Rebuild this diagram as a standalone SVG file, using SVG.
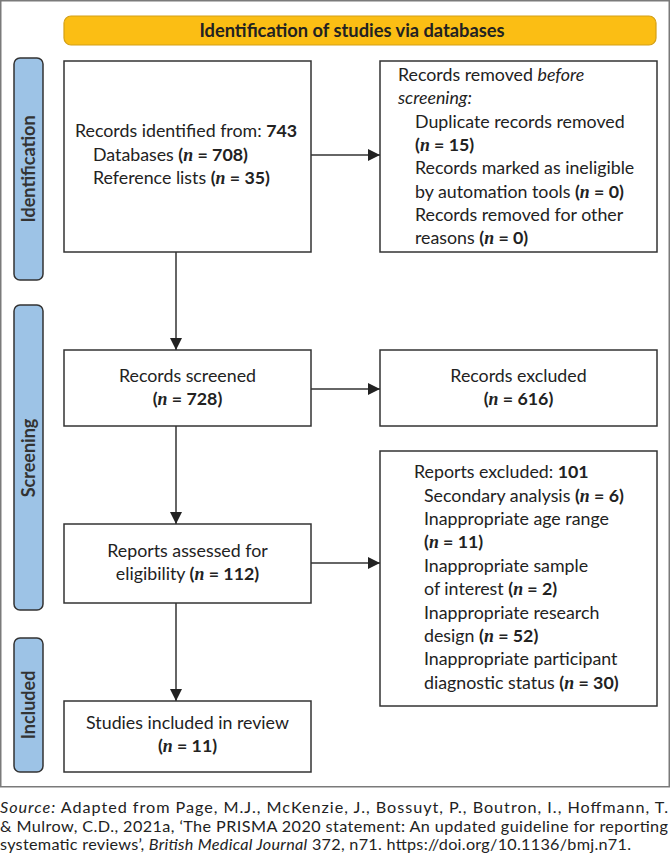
<svg xmlns="http://www.w3.org/2000/svg" width="670" height="856" viewBox="0 0 670 856">
<style>
.frame{fill:#fff;stroke:#7a7a7a;stroke-width:1.5}
.banner{fill:#FBBE14;stroke:#D4A017;stroke-width:1.2}
.lab{fill:#9DC3E6;stroke:#333;stroke-width:1.5}
.box{fill:#fff;stroke:#333;stroke-width:1.5}
.t{font-family:Lato,"Liberation Sans",sans-serif;font-size:17.8px;fill:#222}
.c{text-anchor:middle}
.b{font-weight:bold}
.n{font-family:"Liberation Serif",serif;font-style:italic;font-weight:bold}
.lt{font-family:Lato,"Liberation Sans",sans-serif;font-size:18px;font-weight:bold;fill:#333;text-anchor:middle}
.bt{font-family:Lato,"Liberation Sans",sans-serif;font-size:18.3px;font-weight:bold;fill:#222;text-anchor:middle}
.src{font-family:Lato,"Liberation Sans",sans-serif;font-size:16.2px;fill:#222}
.conn line{stroke:#333;stroke-width:1.5}
</style>
<defs>
<marker id="ah" markerUnits="userSpaceOnUse" markerWidth="14" markerHeight="14" refX="12" refY="6" orient="auto">
<path d="M0,0 L12,6 L0,12 Z" fill="#222"/>
</marker>
</defs>
<rect class="frame" x="0.75" y="0.75" width="668.5" height="786"/>
<g id="banner">
<rect class="banner" x="64" y="16" width="592" height="29" rx="7"/>
<text class="bt" x="352" y="36.5">Identification of studies via databases</text>
</g>
<g id="label-identification">
<rect class="lab" x="14" y="58" width="29" height="222" rx="6"/>
<text class="lt" transform="translate(34.5,169) rotate(-90)">Identification</text>
</g>
<g id="label-screening">
<rect class="lab" x="14" y="305" width="29" height="305" rx="6"/>
<text class="lt" transform="translate(34.5,458) rotate(-90)">Screening</text>
</g>
<g id="label-included">
<rect class="lab" x="14" y="638" width="29" height="134" rx="6"/>
<text class="lt" transform="translate(34.5,705) rotate(-90)">Included</text>
</g>
<g id="records-identified">
<rect class="box" x="64" y="61" width="247" height="191"/>
<text class="t" x="75" y="137">Records identified from: <tspan class="b">743</tspan></text>
<text class="t" x="93" y="161">Databases <tspan class="b">(<tspan class="n">n</tspan> = 708)</tspan></text>
<text class="t" x="93" y="184">Reference lists <tspan class="b">(<tspan class="n">n</tspan> = 35)</tspan></text>
</g>
<g id="records-removed">
<rect class="box" x="380" y="61" width="277" height="191"/>
<text class="t" x="398" y="81">Records removed <tspan font-style="italic">before</tspan></text>
<text class="t" x="398" y="104" font-style="italic">screening:</text>
<text class="t" x="415" y="128">Duplicate records removed</text>
<text class="t" x="415" y="151"><tspan class="b">(<tspan class="n">n</tspan> = 15)</tspan></text>
<text class="t" x="415" y="174">Records marked as ineligible</text>
<text class="t" x="415" y="198">by automation tools <tspan class="b">(<tspan class="n">n</tspan> = 0)</tspan></text>
<text class="t" x="415" y="221">Records removed for other</text>
<text class="t" x="415" y="244">reasons <tspan class="b">(<tspan class="n">n</tspan> = 0)</tspan></text>
</g>
<g id="records-screened">
<rect class="box" x="64" y="350" width="247" height="76"/>
<text class="t c" x="187.5" y="382">Records screened</text>
<text class="t c b" x="187.5" y="405">(<tspan class="n">n</tspan> = 728)</text>
</g>
<g id="records-excluded">
<rect class="box" x="380" y="350" width="277" height="76"/>
<text class="t c" x="518.5" y="382">Records excluded</text>
<text class="t c b" x="518.5" y="405">(<tspan class="n">n</tspan> = 616)</text>
</g>
<g id="reports-assessed">
<rect class="box" x="64" y="524" width="247" height="79"/>
<text class="t c" x="187.5" y="557">Reports assessed for</text>
<text class="t c" x="187.5" y="580">eligibility <tspan class="b">(<tspan class="n">n</tspan> = 112)</tspan></text>
</g>
<g id="reports-excluded">
<rect class="box" x="380" y="451" width="277" height="255"/>
<text class="t" x="414" y="478">Reports excluded: <tspan class="b">101</tspan></text>
<text class="t" x="424" y="502">Secondary analysis <tspan class="b">(<tspan class="n">n</tspan> = 6)</tspan></text>
<text class="t" x="424" y="525">Inappropriate age range</text>
<text class="t" x="424" y="548"><tspan class="b">(<tspan class="n">n</tspan> = 11)</tspan></text>
<text class="t" x="424" y="572">Inappropriate sample</text>
<text class="t" x="424" y="595">of interest <tspan class="b">(<tspan class="n">n</tspan> = 2)</tspan></text>
<text class="t" x="424" y="619">Inappropriate research</text>
<text class="t" x="424" y="642">design <tspan class="b">(<tspan class="n">n</tspan> = 52)</tspan></text>
<text class="t" x="424" y="665">Inappropriate participant</text>
<text class="t" x="424" y="689">diagnostic status <tspan class="b">(<tspan class="n">n</tspan> = 30)</tspan></text>
</g>
<g id="studies-included">
<rect class="box" x="64" y="701" width="247" height="71"/>
<text class="t c" x="187.5" y="729">Studies included in review</text>
<text class="t c b" x="187.5" y="752">(<tspan class="n">n</tspan> = 11)</text>
</g>
<g id="connectors" class="conn">
<line x1="311" y1="155" x2="380" y2="155" marker-end="url(#ah)"/>
<line x1="176" y1="252" x2="176" y2="350" marker-end="url(#ah)"/>
<line x1="311" y1="389" x2="380" y2="389" marker-end="url(#ah)"/>
<line x1="176" y1="426" x2="176" y2="524" marker-end="url(#ah)"/>
<line x1="311" y1="563" x2="380" y2="563" marker-end="url(#ah)"/>
<line x1="176" y1="603" x2="176" y2="701" marker-end="url(#ah)"/>
</g>
<g id="source">
<text class="src" x="0" y="813" textLength="668" lengthAdjust="spacing"><tspan font-style="italic">Source:</tspan> Adapted from Page, M.J., McKenzie, J., Bossuyt, P., Boutron, I., Hoffmann, T.</text>
<text class="src" x="0" y="832" textLength="668" lengthAdjust="spacing">&amp; Mulrow, C.D., 2021a, ‘The PRISMA 2020 statement: An updated guideline for reporting</text>
<text class="src" x="0" y="850" textLength="631" lengthAdjust="spacing">systematic reviews’, <tspan font-style="italic">British Medical Journal</tspan> 372, n71. https://doi.org/10.1136/bmj.n71.</text>
</g>
</svg>
